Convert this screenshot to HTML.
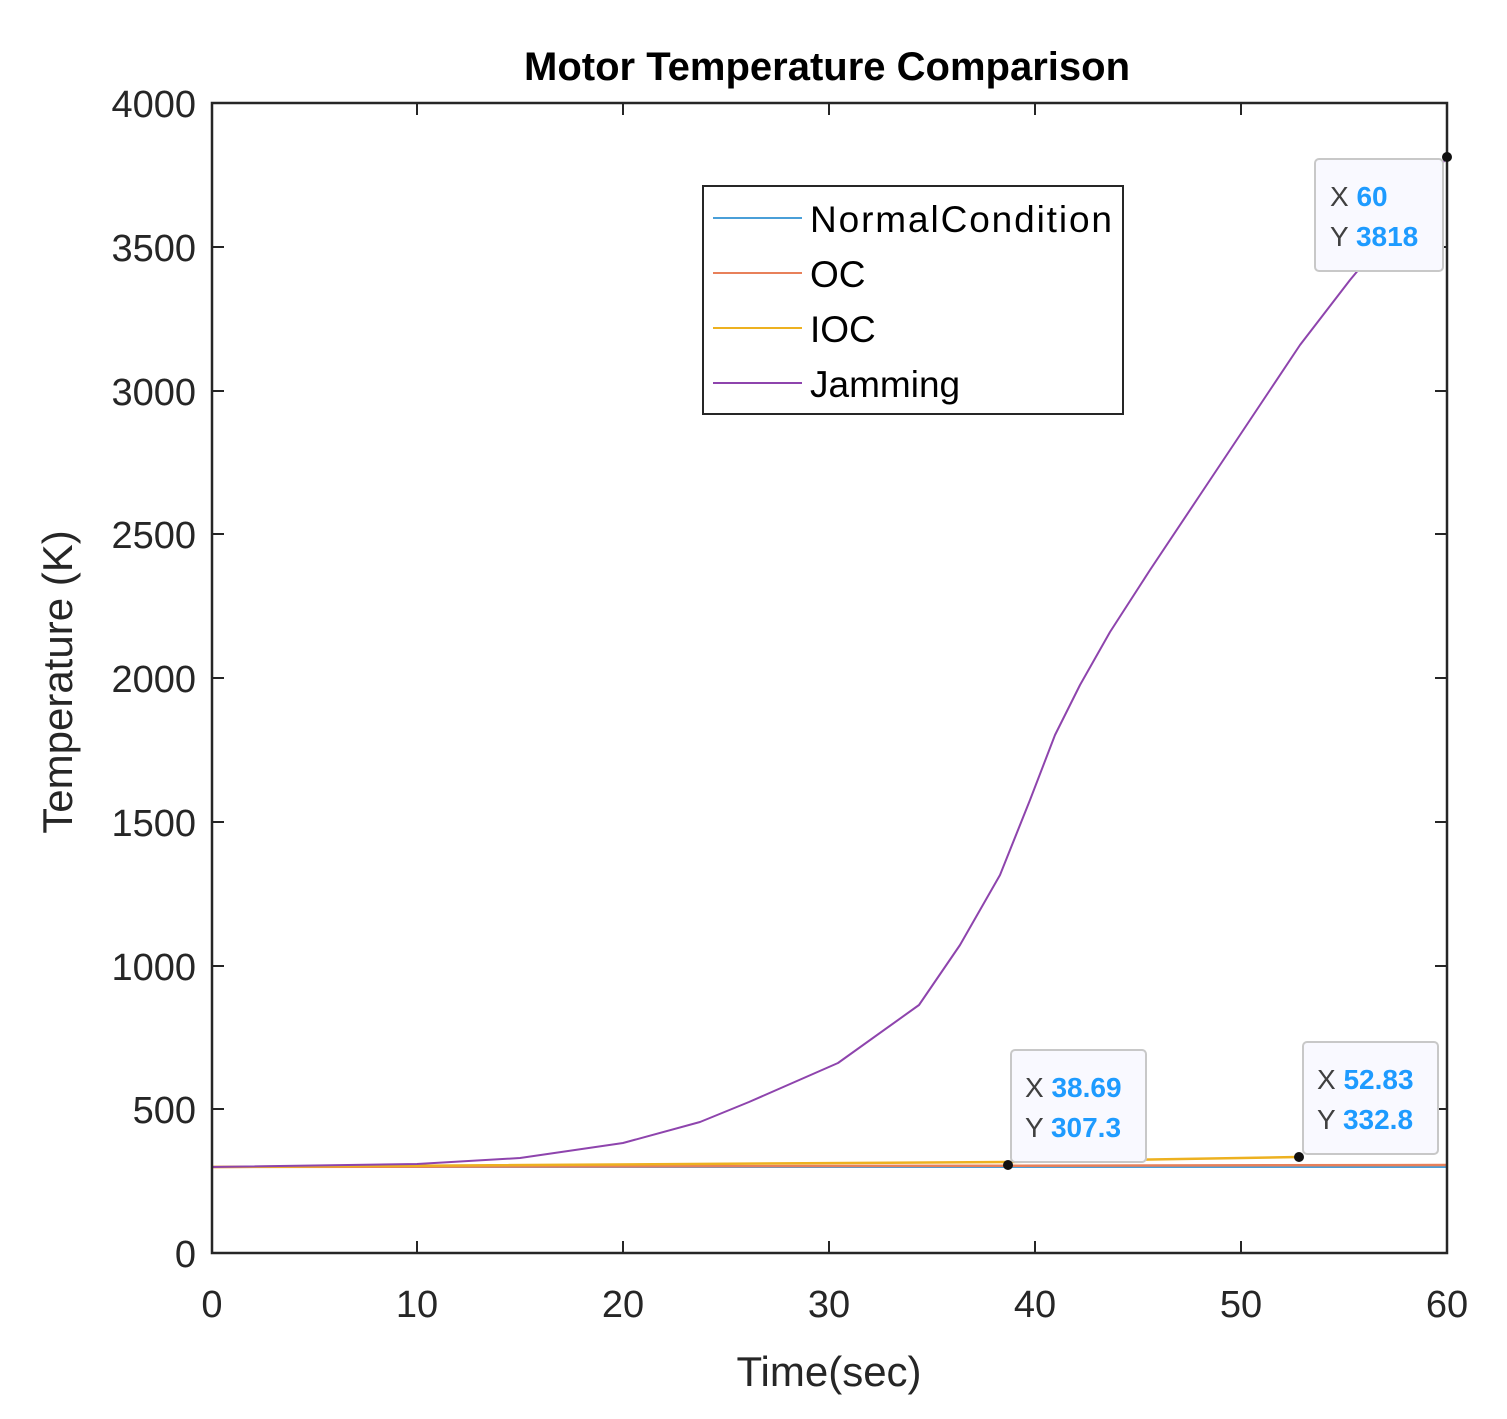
<!DOCTYPE html>
<html><head><style>
body{margin:0;background:#fff;}
svg{display:block;font-family:"Liberation Sans",Arial,sans-serif;}
</style></head><body>
<svg width="1507" height="1419" viewBox="0 0 1507 1419">
<rect width="1507" height="1419" fill="#fff"/>
<text x="827" y="80" text-anchor="middle" font-size="40" font-weight="bold" fill="#000">Motor Temperature Comparison</text>
<g stroke="#262626" stroke-width="2">
<line x1="417" y1="1253" x2="417" y2="1241"/><line x1="623" y1="1253" x2="623" y2="1241"/><line x1="829" y1="1253" x2="829" y2="1241"/><line x1="1035" y1="1253" x2="1035" y2="1241"/><line x1="1241" y1="1253" x2="1241" y2="1241"/>
<line x1="417" y1="103" x2="417" y2="115"/><line x1="623" y1="103" x2="623" y2="115"/><line x1="829" y1="103" x2="829" y2="115"/><line x1="1035" y1="103" x2="1035" y2="115"/><line x1="1241" y1="103" x2="1241" y2="115"/>
<line x1="212" y1="1109" x2="224" y2="1109"/><line x1="212" y1="966" x2="224" y2="966"/><line x1="212" y1="822" x2="224" y2="822"/><line x1="212" y1="678" x2="224" y2="678"/><line x1="212" y1="534" x2="224" y2="534"/><line x1="212" y1="391" x2="224" y2="391"/><line x1="212" y1="247" x2="224" y2="247"/>
<line x1="1447" y1="1109" x2="1435" y2="1109"/><line x1="1447" y1="966" x2="1435" y2="966"/><line x1="1447" y1="822" x2="1435" y2="822"/><line x1="1447" y1="678" x2="1435" y2="678"/><line x1="1447" y1="534" x2="1435" y2="534"/><line x1="1447" y1="391" x2="1435" y2="391"/><line x1="1447" y1="247" x2="1435" y2="247"/>
</g>
<polyline points="212,1167 1447,1167" fill="none" stroke="#4a9fd8" stroke-width="2"/>
<polyline points="212,1167 1447,1165" fill="none" stroke="#e8805a" stroke-width="2.5"/>
<polyline points="212,1167 1008,1162 1298,1157" fill="none" stroke="#edb120" stroke-width="2.5"/>
<polyline points="212,1167 417,1164 520,1158 623,1143 700,1122 749,1102 838,1063 919,1005 960,945 1000,875 1030,800 1055,735 1080,685 1110,632 1150,570 1200,495 1250,420 1300,345 1350,280 1400,220 1447,157" fill="none" stroke="#8e44ad" stroke-width="2" stroke-linejoin="round"/>
<rect x="212" y="103" width="1235" height="1150" fill="none" stroke="#262626" stroke-width="2.5"/>
<g font-size="38" fill="#262626" text-anchor="middle">
<text x="212" y="1317">0</text><text x="417" y="1317">10</text><text x="623" y="1317">20</text><text x="829" y="1317">30</text><text x="1035" y="1317">40</text><text x="1241" y="1317">50</text><text x="1447" y="1317">60</text>
</g>
<g font-size="38" fill="#262626" text-anchor="end">
<text x="196" y="1267">0</text><text x="196" y="1123">500</text><text x="196" y="980">1000</text><text x="196" y="836">1500</text><text x="196" y="692">2000</text><text x="196" y="548">2500</text><text x="196" y="405">3000</text><text x="196" y="261">3500</text><text x="196" y="117">4000</text>
</g>
<text x="829" y="1386" text-anchor="middle" font-size="42" fill="#262626">Time(sec)</text>
<text transform="translate(72,682) rotate(-90)" text-anchor="middle" font-size="42" fill="#262626">Temperature (K)</text>
<rect x="703" y="186" width="420" height="228" fill="#fff" stroke="#262626" stroke-width="2"/>
<line x1="713" y1="218" x2="802" y2="218" stroke="#4a9fd8" stroke-width="2"/>
<line x1="713" y1="273" x2="802" y2="273" stroke="#e8805a" stroke-width="2"/>
<line x1="713" y1="328" x2="802" y2="328" stroke="#edb120" stroke-width="2"/>
<line x1="713" y1="383" x2="802" y2="383" stroke="#8e44ad" stroke-width="2"/>
<g font-size="37" fill="#000">
<text x="810" y="232" textLength="302">NormalCondition</text><text x="810" y="287">OC</text><text x="810" y="342">IOC</text><text x="810" y="397">Jamming</text>
</g>
<g font-size="28">
<rect x="1315" y="159" width="128" height="112" rx="4" fill="#f9f9ff" stroke="#c8c8c8" stroke-width="2"/>
<text x="1330" y="206" fill="#404040">X <tspan fill="#1e9bff" font-weight="bold">60</tspan></text>
<text x="1330" y="246" fill="#404040">Y <tspan fill="#1e9bff" font-weight="bold">3818</tspan></text>
<rect x="1011" y="1050" width="135" height="112" rx="4" fill="#f9f9ff" stroke="#c8c8c8" stroke-width="2"/>
<text x="1025" y="1097" fill="#404040">X <tspan fill="#1e9bff" font-weight="bold">38.69</tspan></text>
<text x="1025" y="1137" fill="#404040">Y <tspan fill="#1e9bff" font-weight="bold">307.3</tspan></text>
<rect x="1303" y="1042" width="135" height="112" rx="4" fill="#f9f9ff" stroke="#c8c8c8" stroke-width="2"/>
<text x="1317" y="1089" fill="#404040">X <tspan fill="#1e9bff" font-weight="bold">52.83</tspan></text>
<text x="1317" y="1129" fill="#404040">Y <tspan fill="#1e9bff" font-weight="bold">332.8</tspan></text>
</g>
<circle cx="1447" cy="157" r="5" fill="#111"/>
<circle cx="1008" cy="1165" r="5" fill="#111"/>
<circle cx="1299" cy="1157" r="5" fill="#111"/>
</svg>
</body></html>
